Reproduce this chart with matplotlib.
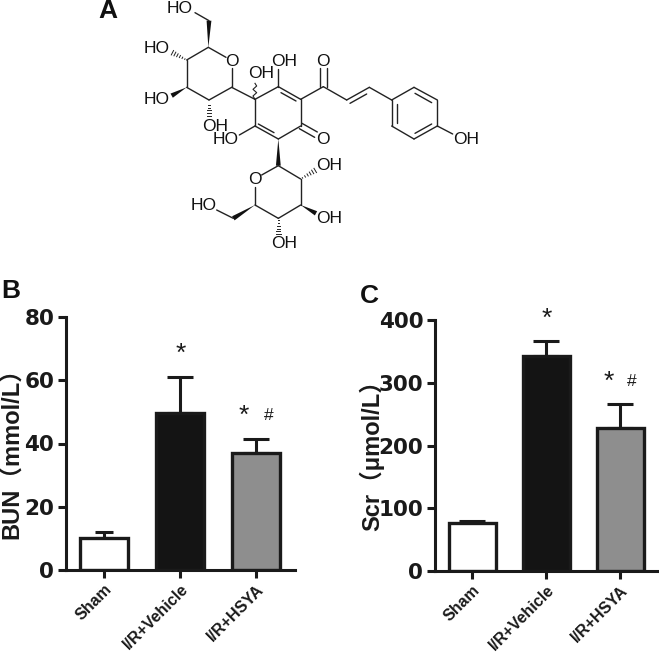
import matplotlib
matplotlib.use("Agg")
import matplotlib.pyplot as plt
import numpy as np

W, H = 659, 665
DARK = "#1a1a1a"

# -------------------------
# data
# -------------------------

groups = ["Sham", "I/R+Vehicle", "I/R+HSYA"]
bar_colors = ["white", "#141414", "#8e8e8e"]

bun_mean = [10, 49.5, 37]
bun_top = [12, 61, 41.5]
bun_ticks = [0, 20, 40, 60, 80]

scr_mean = [76, 343, 228]
scr_top = [80, 366, 266]
scr_ticks = [0, 100, 200, 300, 400]

marks = ["", "*", "*"]
hash_marks = ["", "", "#"]

# molecule, in 3x zoom coordinates of the top panel
bonds = [
    # upper sugar
    (355, 142, 408, 172), (425, 205, 425, 262), (425, 262, 357, 300), (357, 300, 290, 262),
    (290, 262, 290, 180), (290, 180, 355, 142), (357, 62, 315, 38),
    # central ring
    (425, 262, 495, 298), (495, 298, 565, 260), (565, 260, 632, 298), (632, 298, 632, 378),
    (632, 378, 565, 417), (565, 417, 495, 378), (495, 378, 495, 298),
    (565, 260, 565, 208), (495, 378, 448, 405),
    (632, 298, 700, 260), (700, 260, 770, 300), (770, 300, 838, 262), (838, 262, 905, 300),
    # phenol
    (905, 300, 972, 262), (972, 262, 1042, 300), (1042, 300, 1042, 378), (1042, 378, 972, 417),
    (972, 417, 905, 378), (905, 378, 905, 300), (1042, 378, 1088, 402),
    # lower sugar
    (565, 497, 515, 525), (495, 560, 495, 615), (565, 497, 632, 537), (632, 537, 632, 615),
    (632, 615, 565, 655), (565, 655, 495, 615), (430, 655, 380, 630),
]
inner_bonds = [
    (573, 278, 618, 303), (505, 372, 552, 398), (780, 310, 830, 282),
    (975, 280, 1025, 308), (920, 312, 920, 368), (975, 400, 1025, 372),
    (690, 260, 690, 205), (710, 260, 710, 205), (636, 370, 682, 396), (628, 386, 674, 412),
]
wedges = [
    (355, 142, 357, 62), (290, 262, 245, 287), (565, 417, 565, 497),
    (632, 615, 678, 640), (495, 615, 430, 655),
]
hashes = [(290, 180, 245, 157), (357, 300, 357, 350), (632, 537, 678, 510), (565, 655, 565, 705)]
atom_labels = [
    ("HO", 270, 25), ("HO", 201, 145), ("O", 425, 183), ("OH", 582, 183), ("O", 698, 183),
    ("OH", 513, 222), ("HO", 201, 300), ("OH", 376, 380), ("HO", 408, 418), ("O", 698, 418),
    ("OH", 1128, 418), ("OH", 718, 497), ("O", 495, 537), ("HO", 340, 615), ("OH", 718, 655),
    ("OH", 582, 732),
]


def zx(x):
    return 90 + x / 3


def zy(y):
    return y / 3


# -------------------------
# figure
# -------------------------

fig = plt.figure(figsize=(W / 100, H / 100), dpi=100)
plt.rcParams["font.family"] = ["Liberation Sans", "Noto Sans CJK SC"]

mol = fig.add_axes([0, 0, 1, 1])
mol.set_xlim(0, W)
mol.set_ylim(H, 0)
mol.axis("off")

for x0, y0, x1, y1 in bonds + inner_bonds:
    mol.plot([zx(x0), zx(x1)], [zy(y0), zy(y1)], color="#222222", lw=1.0, solid_capstyle="round")

for x0, y0, x1, y1 in wedges:
    dx, dy = x1 - x0, y1 - y0
    n = np.hypot(dx, dy)
    px, py = -dy / n * 2.4, dx / n * 2.4
    wide = (x1, y1) if (x0, y0) in [(355, 142), (290, 262), (632, 615), (495, 615)] else (x0, y0)
    wide = (x1, y1)
    if (x0, y0) == (565, 417):
        wide = (x1, y1)
    tip = (x0, y0)
    mol.fill([zx(tip[0]), zx(wide[0]) + px, zx(wide[0]) - px],
             [zy(tip[1]), zy(wide[1]) + py, zy(wide[1]) - py], color="#111111", lw=0)

for x0, y0, x1, y1 in hashes:
    dx, dy = x1 - x0, y1 - y0
    n = np.hypot(dx, dy)
    for f in np.linspace(0.12, 0.95, 6):
        cx, cy = zx(x0 + dx * f), zy(y0 + dy * f)
        px, py = -dy / n * 2.6 * f, dx / n * 2.6 * f
        mol.plot([cx - px, cx + px], [cy - py, cy + py], color="#222222", lw=0.7)

# wavy bond above the central carbon
wy = np.array([298, 288, 278, 268, 258, 250])
wx = np.array([495, 489, 500, 489, 500, 495])
mol.plot(zx(wx), zy(wy), color="#222222", lw=0.8)

for label, x, y in atom_labels:
    mol.text(zx(x), zy(y), label, ha="center", va="center", fontsize=12.5, color="#111111")

for letter, x, y in [("A", 108, 11), ("B", 11, 291), ("C", 369, 296)]:
    mol.text(x, y, letter, ha="center", va="center", fontsize=19, fontweight="bold", color="#111111")


def panel(rect, means, tops, ticks, ymax, ylabel, label_x, label_y, sham_cap, star_gap, hash_dx):
    left, right, top, bottom = rect
    ax = fig.add_axes([left / W, 1 - bottom / H, (right - left) / W, (bottom - top) / H])
    ax.patch.set_alpha(0)
    pos = np.arange(len(groups))

    caps = [sham_cap, 9.7, 9.7]
    for i in pos:
        ax.errorbar(pos[i], means[i], yerr=[[0], [tops[i] - means[i]]], color=DARK,
                    elinewidth=2.2, capsize=caps[i], capthick=2.2, zorder=1)
    ax.bar(pos, means, width=0.63, color=bar_colors, edgecolor=DARK, linewidth=2.4, zorder=2)

    ax.set_xlim(-0.505, 2.51)
    ax.set_ylim(0, ymax)
    ax.set_yticks(ticks)
    ax.set_xticks(pos)
    ax.set_xticklabels(groups, rotation=45, ha="right", rotation_mode="anchor",
                       fontsize=11.5, fontweight="bold", color=DARK)
    ax.tick_params(axis="both", width=2.2, length=5.5, color=DARK, pad=3)
    ax.tick_params(axis="y", labelsize=15.5, labelcolor=DARK)
    for t in ax.get_yticklabels():
        t.set_family("Liberation Sans Narrow")
        t.set_fontweight("bold")
    for side in ["top", "right"]:
        ax.spines[side].set_visible(False)
    for side in ["left", "bottom"]:
        ax.spines[side].set_linewidth(2.2)
        ax.spines[side].set_color(DARK)
        ax.spines[side].set_capstyle("projecting")

    for i in pos:
        if marks[i]:
            ax.text(pos[i] - (hash_dx if hash_marks[i] else 0), tops[i] + star_gap * ymax, marks[i],
                    ha="center", va="center", fontsize=19, color=DARK, clip_on=False)
        if hash_marks[i]:
            ax.text(pos[i] + hash_dx, tops[i] + star_gap * ymax, hash_marks[i],
                    ha="center", va="center", fontsize=12.5, color=DARK, clip_on=False)

    mol.text(label_x, label_y, ylabel, rotation=90, ha="center", va="center",
             fontsize=17, fontweight="bold", color=DARK)


panel((66, 295, 317, 570), bun_mean, bun_top, bun_ticks, 80, "BUN（mmol/L）", 12, 448, 6.5, 0.09, 0.16)
panel((435, 658, 320, 571), scr_mean, scr_top, scr_ticks, 400, "Scr（μmol/L）", 372, 450, 9.7, 0.09, 0.16)

fig.savefig("out.png", dpi=100)
